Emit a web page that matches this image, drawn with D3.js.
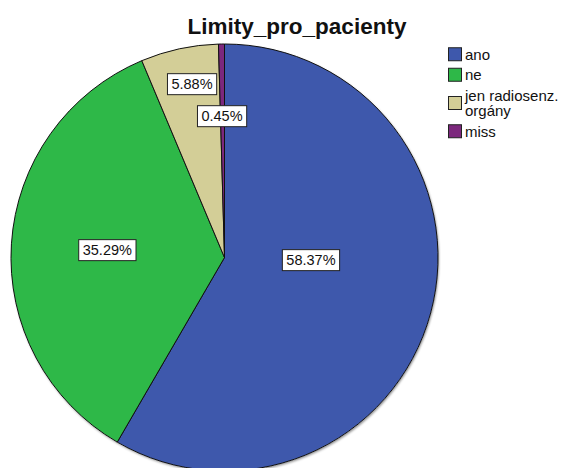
<!DOCTYPE html>
<html>
<head>
<meta charset="utf-8">
<script src="https://cdn.jsdelivr.net/npm/d3@7"></script>
<style>
  body { margin: 0; background: #fff; }
  svg { display: block; font-family: Arial, "Liberation Sans", sans-serif; }
</style>
</head>
<body>
<div id="chart"></div>
<script>
//Data
var title = "Limity_pro_pacienty";
var categories = [["ano"], ["ne"], ["jen radiosenz.", "orgány"], ["miss"]];
var values = [58.37, 35.29, 5.88, 0.45];
var colors = ["#3E58AC", "#2EB848", "#D3CE97", "#7C287D"];

//Layout
var width = 565, height = 468;
var cx = 224.5, cy = 257.5, radius = 213.5;
//label spot per slice: [angle in degrees from 12 o'clock, fraction of radius]
var labelSpots = [[91.6, 0.405], [273.7, 0.55], [349.4, 0.827], [359.0, 0.663]];

var svg = d3.select("#chart")
    .append("svg")
    .attr("width", width)
    .attr("height", height);

var defs = svg.append("defs");
defs.append("filter")
    .attr("id", "shadow")
    .attr("x", "-10%").attr("y", "-10%")
    .attr("width", "120%").attr("height", "120%")
    .append("feDropShadow")
    .attr("dx", 1).attr("dy", 1.5)
    .attr("stdDeviation", 1.2)
    .attr("flood-color", "#000")
    .attr("flood-opacity", 0.45);

//Title
svg.append("text")
    .attr("x", 297)
    .attr("y", 33.5)
    .attr("text-anchor", "middle")
    .style("font-size", "22.5px")
    .style("font-weight", "bold")
    .style("fill", "#111")
    .text(title);

//Pie
var pie = d3.pie()
    .sort(null)
    .value(function(d) { return d; });

var arc = d3.arc()
    .innerRadius(0)
    .outerRadius(radius);

var arcs = pie(values);

var g = svg.append("g")
    .attr("transform", "translate(" + cx + "," + cy + ")");

g.append("circle")
    .attr("r", radius)
    .style("fill", "#fff")
    .attr("filter", "url(#shadow)");

g.selectAll("path.slice")
    .data(arcs)
    .enter()
    .append("path")
    .attr("class", "slice")
    .attr("d", arc)
    .style("fill", function(d, i) { return colors[i]; })
    .style("stroke", "#111")
    .style("stroke-width", 1)
    .style("stroke-linejoin", "round");

//Value labels
var labels = g.selectAll("g.lab")
    .data(arcs)
    .enter()
    .append("g")
    .attr("class", "lab")
    .attr("transform", function(d, i) {
        var a = labelSpots[i][0] * Math.PI / 180;
        var r = labelSpots[i][1] * radius;
        return "translate(" + (r * Math.sin(a)) + "," + (-r * Math.cos(a)) + ")";
    });

labels.append("rect");
labels.append("text")
    .attr("text-anchor", "middle")
    .attr("dy", "0.36em")
    .style("font-size", "14.5px")
    .style("fill", "#111")
    .text(function(d) { return d.data.toFixed(2) + "%"; });

labels.each(function() {
    var t = d3.select(this).select("text").node().getBBox();
    d3.select(this).select("rect")
        .attr("x", t.x - 4)
        .attr("y", t.y - 2.5)
        .attr("width", t.width + 8)
        .attr("height", t.height + 5)
        .style("fill", "#fff")
        .style("stroke", "#222")
        .style("stroke-width", 1);
});

//Legend
var legend = svg.append("g")
    .attr("transform", "translate(448,44)");

var lineGap = 15.5;
var y = 0;
categories.forEach(function(lines, i) {
    var h = lines.length * lineGap + 5;
    var item = legend.append("g")
        .attr("transform", "translate(0," + y + ")");
    item.append("rect")
        .attr("x", 0.5)
        .attr("y", h / 2 - 6.5)
        .attr("width", 13)
        .attr("height", 13)
        .style("fill", colors[i])
        .style("stroke", "#222")
        .style("stroke-width", 1);
    var txt = item.append("text")
        .attr("x", 17)
        .attr("y", h / 2 - (lines.length - 1) * lineGap / 2)
        .style("font-size", "15px")
        .style("fill", "#111");
    lines.forEach(function(line, j) {
        txt.append("tspan")
            .attr("x", 17)
            .attr("dy", j == 0 ? "0.36em" : lineGap + "px")
            .text(line);
    });
    y += h;
});
</script>
</body>
</html>
